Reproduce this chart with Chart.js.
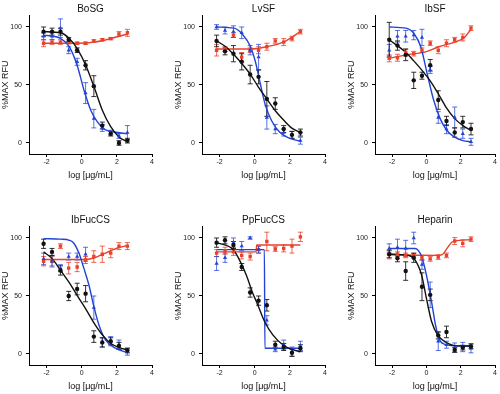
<!DOCTYPE html>
<html><head><meta charset="utf-8">
<script src="https://cdn.jsdelivr.net/npm/chart.js@4.4.1/dist/chart.umd.min.js"></script>
<style>
html,body{margin:0;padding:0;background:#fff;}
#wrap{position:relative;width:500px;height:394px;overflow:hidden;background:#fff;}
.panel{position:absolute;}
</style></head><body><div id="wrap"></div>
<script>
// ---------- DATA ----------
const X = [-2.17,-1.69,-1.21,-0.74,-0.26,0.22,0.69,1.17,1.65,2.12,2.6];
const xTicks = [-2,0,2,4];
const yTicks = [0,50,100];
const titles = ['BoSG','LvSF','IbSF','IbFucCS','PpFucCS','Heparin'];
const xLabel = 'log [μg/mL]';
const yLabel = '%MAX RFU';

// BoSG
const BoSG_black = [96,96,96,89,80,67,49,15,8,0,2];
const BoSG_black_err = [4,3,3,2,2,4,9,3,2,2,2];
const BoSG_blue = [92,92,99,80,70,43,21,13,9,6,9];
const BoSG_blue_err = [3,3,8,3,3,9,8,3,2,2,6];
const BoSG_red = [86,87,87,86.5,86,86,88,89,90,94,95];
const BoSG_red_err = [3,2,2,1,1,1,1,1,1,2,3];
const BoSG_black_fit = [[-2.17,96],[-1.19,95],[-0.71,90],[-0.24,81],[0.23,67],[0.71,48],[1.18,28],[1.65,14],[2.13,5],[2.6,1]];
const BoSG_blue_fit = [[-2.17,93],[-1.19,90],[-0.71,83],[-0.24,66],[0.14,45],[0.52,28],[0.9,18],[1.28,12],[1.84,9.5],[2.6,8]];
const BoSG_red_fit = [[-2.17,86],[-0.24,86],[0.71,87],[1.65,90],[2.6,94]];

// LvSF
const LvSF_black = [88,79,77,70,59,57,38,34,12,7,9];
const LvSF_black_err = [5,3,7,7,8,6,15,5,3,3,3];
const LvSF_blue = [100,97,96,95,80,74,22,12,9,7,2];
const LvSF_blue_err = [2,3,5,5,4,11,10,4,3,3,3];
const LvSF_red = [80,81,93,74,80,80,83,88,87,90,96];
const LvSF_red_err = [5,2,2,4,2,3,3,2,3,2,2];
const LvSF_black_fit = [[-2.17,88],[-1.65,83],[-1.18,76],[-0.71,68],[-0.24,59],[0.22,48],[0.69,38],[1.16,28],[1.63,20],[2.09,13],[2.6,9]];
const LvSF_blue_fit = [[-2.17,100],[-1.18,99],[-0.71,94],[-0.24,83],[0.04,70],[0.32,51],[0.6,33],[0.97,19],[1.44,9],[2.0,4],[2.6,1.5]];
const LvSF_red_fit = [[-2.17,81],[-0.24,81],[0.69,83],[1.63,87],[2.6,96]];

// IbSF
const IbSF_black = [89,84,76,54,58,67,37,19,9,18,12];
const IbSF_black_err = [15,4,5,7,3,5,8,4,4,5,5];
const IbSF_blue = [80,92,92,93,91,63,22,12,22,8,1];
const IbSF_blue_err = [5,5,5,4,7,3,5,4,9,4,3];
const IbSF_red = [73,73.5,78,77,80,86,80,86,89,91,99];
const IbSF_red_err = [3,3,3,2,2,2,3,3,2,3,2];
const IbSF_black_fit = [[-2.17,89],[-1.19,78],[-0.75,71],[-0.28,63],[0.2,54],[0.71,42],[1.18,30],[1.65,21],[2.13,15],[2.6,11]];
const IbSF_blue_fit = [[-2.17,100],[-1.19,99],[-0.71,94],[-0.33,83],[0.04,60],[0.42,37],[0.8,21],[1.18,11],[1.65,5],[2.13,2],[2.6,1]];
const IbSF_red_fit = [[-2.17,73],[-1.19,76],[-0.05,78.5],[0.71,83],[1.65,87],[2.22,91],[2.6,98]];

// IbFucCS
const IbFucCS_black = [95,88,72,50,56,52,15,10,11,7,3];
const IbFucCS_black_err = [4,3,4,4,5,7,5,4,3,3,2];
const IbFucCS_blue = [82,80,74,84,84,86,40,10,11,8,2];
const IbFucCS_blue_err = [5,5,3,3,3,6,10,4,4,4,3];
const IbFucCS_red = [80,80,93,74,75,81,84,86,87,93,93];
const IbFucCS_red_err = [4,4,2,5,4,3,5,7,4,3,3];
const IbFucCS_black_fit = [[-2.17,88],[-1.67,82],[-1.2,72],[-0.69,61],[-0.2,49],[0.26,38],[0.73,26],[1.2,16],[1.66,9],[2.15,5.5],[2.6,3.5]];
const IbFucCS_blue_fit = [[-2.17,99.5],[-1.2,99],[-0.7,98],[-0.45,95.5],[-0.16,87],[0.12,74],[0.41,59.5],[0.69,41],[0.98,25],[1.36,12],[1.93,5],[2.6,1]];
const IbFucCS_red_fit = [[-2.17,81.5],[0.26,81.5],[0.73,83],[1.2,86],[1.66,89],[2.15,92],[2.6,93.5]];

// PpFucCS
const PpFucCS_black = [96,98,94,75,53,46,42,8,6,1,5];
const PpFucCS_black_err = [4,3,3,3,4,4,5,3,3,3,3];
const PpFucCS_blue = [78,83,96,93,100,90,29,4,8,2,7];
const PpFucCS_blue_err = [6,4,4,4,1,3,4,2,4,4,4];
const PpFucCS_red = [87,89,88,85,84,90,97,90.5,91,93,101];
const PpFucCS_red_err = [3,3,3,3,3,3,8,2,3,6,4];
const PpFucCS_black_fit = [[-2.17,96],[-1.23,90],[-0.8,79],[-0.48,68],[-0.1,52],[0.13,44],[0.56,28],[1.03,16.5],[1.6,8],[2.1,4],[2.6,2]];
const PpFucCS_blue_fit = [[-2.17,90],[0.55,90],[0.58,5],[2.6,5]];
const PpFucCS_red_fit = [[-2.17,88],[0.08,88],[0.11,94],[2.6,94]];

// Heparin
const Heparin_black = [86,82.5,71.5,83,58,51,16,19,3.5,5.5,6.5];
const Heparin_black_err = [3,3,8,4,12,5,3,5,2,2,2];
const Heparin_blue = [91,92,91,100,77,51,11,8,5.5,6,5];
const Heparin_blue_err = [4,7,7,5,4,11,8,3,4,4,4];
const Heparin_red = [86,86,85,84.7,83,82,83.6,85,97.4,95.4,99];
const Heparin_red_err = [4,2,2,2,2,2,2,2,3,3,2];
const Heparin_black_fit = [[-2.17,86],[-1.06,85],[-0.66,81],[-0.28,68],[0,48],[0.3,28],[0.67,16],[1.15,10],[1.76,7],[2.6,7]];
const Heparin_blue_fit = [[-2.17,91],[-0.66,91],[-0.28,84],[0,68],[0.3,45],[0.53,25],[0.77,12],[1.15,8],[1.76,7],[2.6,6.5]];
const Heparin_red_fit = [[-2.17,85.5],[0.7,85],[0.95,86],[1.2,91],[1.45,96],[1.65,97.5],[2.6,98.5]];

// ---------- ASSEMBLY ----------
const panelSeries = [
  [BoSG_black,BoSG_black_err,BoSG_black_fit, BoSG_blue,BoSG_blue_err,BoSG_blue_fit, BoSG_red,BoSG_red_err,BoSG_red_fit],
  [LvSF_black,LvSF_black_err,LvSF_black_fit, LvSF_blue,LvSF_blue_err,LvSF_blue_fit, LvSF_red,LvSF_red_err,LvSF_red_fit],
  [IbSF_black,IbSF_black_err,IbSF_black_fit, IbSF_blue,IbSF_blue_err,IbSF_blue_fit, IbSF_red,IbSF_red_err,IbSF_red_fit],
  [IbFucCS_black,IbFucCS_black_err,IbFucCS_black_fit, IbFucCS_blue,IbFucCS_blue_err,IbFucCS_blue_fit, IbFucCS_red,IbFucCS_red_err,IbFucCS_red_fit],
  [PpFucCS_black,PpFucCS_black_err,PpFucCS_black_fit, PpFucCS_blue,PpFucCS_blue_err,PpFucCS_blue_fit, PpFucCS_red,PpFucCS_red_err,PpFucCS_red_fit],
  [Heparin_black,Heparin_black_err,Heparin_black_fit, Heparin_blue,Heparin_blue_err,Heparin_blue_fit, Heparin_red,Heparin_red_err,Heparin_red_fit]
];

const COLORS = {black:'#111111', blue:'#2143d6', red:'#e8412c'};
const ERRCOLORS = {black:'rgba(17,17,17,0.85)', blue:'rgba(33,67,214,0.75)', red:'rgba(232,65,44,0.8)'};
const STYLES = {black:'circle', blue:'triangle', red:'rect'};

const cols = [{left:0,width:165,padL:0,padR:13},{left:165,width:165,padL:8,padR:4},{left:330,width:170,padL:16,padR:3}];
const rows = [{top:0},{top:211}];
const PH = 183;

Chart.defaults.font.family = '"Liberation Sans Narrow","Liberation Sans",Arial,sans-serif';
Chart.defaults.color = '#111';

function errData(vals, errs){
  const d = [];
  X.forEach((x,i)=>{ d.push({x:x,y:vals[i]-errs[i]},{x:x,y:vals[i]+errs[i]},{x:x,y:null}); });
  return d;
}
function seriesSets(name, vals, errs, fit){
  return [
    {data: X.map((x,i)=>({x:x,y:vals[i]})), showLine:false, pointStyle:STYLES[name],
     pointRadius: name==='black'?2.2:2.4, pointBackgroundColor:COLORS[name], pointBorderColor:COLORS[name], pointBorderWidth:0, order:1},
    {data: fit.map(p=>({x:p[0],y:p[1]})), showLine:true, borderColor:COLORS[name], borderWidth:1.4,
     pointRadius:0, cubicInterpolationMode:'monotone', order:2},
    {data: errData(vals, errs), showLine:true, spanGaps:false, borderColor:ERRCOLORS[name], borderWidth:1,
     pointStyle:'line', pointRadius:2.5, pointBorderColor:ERRCOLORS[name], pointBorderWidth:1, order:3}
  ];
}

const wrap = document.getElementById('wrap');
titles.forEach((t, idx)=>{
  const c = cols[idx%3], r = rows[Math.floor(idx/3)];
  const div = document.createElement('div');
  div.className='panel';
  div.style.left = c.left+'px'; div.style.top = r.top+'px';
  div.style.width = c.width+'px'; div.style.height = PH+'px';
  const cv = document.createElement('canvas');
  cv.width = c.width; cv.height = PH;
  cv.style.width = c.width+'px'; cv.style.height = PH+'px';
  div.appendChild(cv); wrap.appendChild(div);
  const s = panelSeries[idx];
  const datasets = [].concat(
    seriesSets('black', s[0], s[1], s[2]),
    seriesSets('blue', s[3], s[4], s[5]),
    seriesSets('red', s[6], s[7], s[8])
  );
  const axisCommon = {
    grid:{display:true, drawOnChartArea:false, drawTicks:true, tickLength:3, color:'#000', lineWidth:1},
    border:{display:true, color:'#000', width:1}
  };
  new Chart(cv, {
    type:'scatter',
    data:{datasets},
    options:{
      responsive:false, animation:false, devicePixelRatio:1,
      layout:{padding:{left:c.padL, right:c.padR, top:0, bottom:0}},
      plugins:{
        legend:{display:false}, tooltip:{enabled:false},
        title:{display:true, text:t, fullSize:false, color:'#111', font:{size:10, weight:'normal'}, padding:{top:3,bottom:0.4}}
      },
      scales:{
        x: Object.assign({type:'linear', min:-3, max:4,
          afterBuildTicks:sc=>{sc.ticks = xTicks.map(v=>({value:v}));},
          afterFit:sc=>{sc.height = 29;},
          ticks:{font:{size:7}, color:'#222', padding:1, maxRotation:0, autoSkip:false},
          title:{display:true, text:xLabel, color:'#111', font:{size:9}, padding:{top:0,bottom:1.6}}
        }, axisCommon),
        y: Object.assign({type:'linear', min:-9.5, max:110,
          afterBuildTicks:sc=>{sc.ticks = yTicks.map(v=>({value:v}));},
          afterFit:sc=>{sc.width = 29;},
          ticks:{font:{size:7}, color:'#222', padding:4},
          title:{display:true, text:yLabel, color:'#111', font:{size:9}, padding:{top:0,bottom:0}}
        }, axisCommon)
      }
    }
  });
});
</script></body></html>
